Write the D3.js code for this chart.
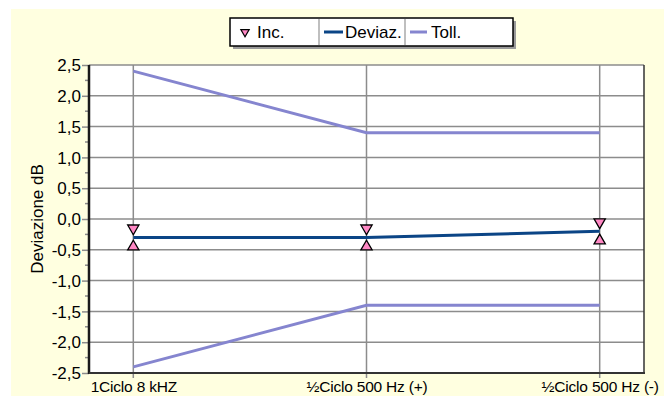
<!DOCTYPE html>
<html>
<head>
<meta charset="utf-8">
<script src="https://cdn.jsdelivr.net/npm/d3@7"></script>
<style>
  body { margin: 0; background: #fff; }
  svg { display: block; font-family: "Liberation Sans", Arial, sans-serif; }
</style>
</head>
<body>
<div id="chart"></div>
<script>
var categories = ["1Ciclo 8 kHZ", "½Ciclo 500 Hz (+)", "½Ciclo 500 Hz (-)"];
var deviaz = [-0.3, -0.3, -0.2];
var incHigh = [-0.15, -0.15, -0.05];
var incLow = [-0.45, -0.45, -0.35];
var tollUp = [2.4, 1.4, 1.4];
var tollDown = [-2.4, -1.4, -1.4];
var yTicks = [2.5, 2.0, 1.5, 1.0, 0.5, 0.0, -0.5, -1.0, -1.5, -2.0, -2.5];

function drawChart() {
  var width = 664, height = 401;
  var pLeft = 89, pRight = 644, pTop = 65, pBottom = 373;
  var font = '"Liberation Sans", Arial, sans-serif';

  var svg = d3.select('#chart').append('svg')
    .attr('width', width).attr('height', height);

  // background
  svg.append('rect').attr('x', 11).attr('y', 9)
    .attr('width', width - 11).attr('height', 387)
    .attr('fill', '#ffffe0');

  var x = d3.scalePoint().domain(categories).range([pLeft, pRight]).padding(0.19);
  var y = d3.scaleLinear().domain([-2.5, 2.5]).range([pBottom, pTop]);

  // plot area
  svg.append('rect').attr('x', pLeft).attr('y', pTop)
    .attr('width', pRight - pLeft).attr('height', pBottom - pTop)
    .attr('fill', '#fff');

  // horizontal grid
  svg.append('g').selectAll('line').data(yTicks).enter().append('line')
    .attr('x1', pLeft).attr('x2', pRight)
    .attr('y1', function(d) { return y(d); }).attr('y2', function(d) { return y(d); })
    .attr('stroke', '#8c8c8c').attr('stroke-width', 1.5);

  // vertical grid
  svg.append('g').selectAll('line').data(categories).enter().append('line')
    .attr('x1', function(d) { return x(d); }).attr('x2', function(d) { return x(d); })
    .attr('y1', pTop).attr('y2', pBottom + 5)
    .attr('stroke', '#8c8c8c').attr('stroke-width', 1.5);

  // frame right
  svg.append('line').attr('x1', pRight).attr('x2', pRight).attr('y1', pTop).attr('y2', pBottom)
    .attr('stroke', '#333').attr('stroke-width', 1.5);

  // y axis
  var yAxis = d3.axisLeft(y).tickValues(yTicks).tickSize(7).tickPadding(1)
    .tickFormat(function(d) { return d3.format('.1f')(d).replace('.', ',').replace('−', '-'); });
  var ya = svg.append('g').attr('transform', 'translate(' + pLeft + ',0)').call(yAxis);
  ya.select('.domain').remove();
  ya.selectAll('line').attr('stroke', '#8c8c8c').attr('stroke-width', 1.5);
  ya.selectAll('text').attr('font-size', 17).attr('fill', '#000')
    .attr('font-family', font).attr('dy', '0.34em');

  // minor ticks
  var minor = d3.range(-2.25, 2.5, 0.5);
  svg.append('g').selectAll('line').data(minor).enter().append('line')
    .attr('x1', pLeft - 4).attr('x2', pLeft)
    .attr('y1', function(d) { return y(d); }).attr('y2', function(d) { return y(d); })
    .attr('stroke', '#8c8c8c').attr('stroke-width', 1.5);

  svg.append('line').attr('x1', pLeft).attr('x2', pLeft).attr('y1', pTop).attr('y2', pBottom + 1)
    .attr('stroke', '#1a1a1a').attr('stroke-width', 2.5);
  svg.append('line').attr('x1', pLeft).attr('x2', pRight + 1).attr('y1', pBottom).attr('y2', pBottom)
    .attr('stroke', '#333').attr('stroke-width', 2);

  // x axis labels
  var xAxis = d3.axisBottom(x).tickSize(0).tickPadding(8);
  var xa = svg.append('g').attr('transform', 'translate(0,' + pBottom + ')').call(xAxis);
  xa.select('.domain').remove();
  xa.selectAll('text').attr('font-size', 15.5).attr('fill', '#000')
    .attr('font-family', font).attr('letter-spacing', '-0.2');

  // y title
  svg.append('text').attr('transform', 'translate(43,' + ((pTop + pBottom) / 2) + ') rotate(-90)')
    .attr('text-anchor', 'middle').attr('font-size', 17).attr('font-family', font).text('Deviazione dB');

  var line = d3.line()
    .x(function(d, i) { return x(categories[i]); })
    .y(function(d) { return y(d); });

  var tollColor = '#8585cf', devColor = '#0b4586', incColor = '#ff88c4';

  [tollUp, tollDown].forEach(function(s) {
    svg.append('path').datum(s).attr('d', line).attr('fill', 'none')
      .attr('stroke', tollColor).attr('stroke-width', 3);
  });
  svg.append('path').datum(deviaz).attr('d', line).attr('fill', 'none')
    .attr('stroke', devColor).attr('stroke-width', 3);

  var tri = d3.symbol().type(d3.symbolTriangle).size(55);
  svg.append('g').selectAll('path').data(incHigh).enter().append('path')
    .attr('d', tri)
    .attr('transform', function(d, i) { return 'translate(' + x(categories[i]) + ',' + y(d) + ') rotate(180)'; })
    .attr('fill', incColor).attr('stroke', '#000').attr('stroke-width', 1.3);
  svg.append('g').selectAll('path').data(incLow).enter().append('path')
    .attr('d', tri)
    .attr('transform', function(d, i) { return 'translate(' + x(categories[i]) + ',' + y(d) + ')'; })
    .attr('fill', incColor).attr('stroke', '#000').attr('stroke-width', 1.3);

  // legend
  var lg = svg.append('g');
  lg.append('rect').attr('x', 233).attr('y', 21).attr('width', 283).attr('height', 28).attr('fill', '#9a9a9a');
  lg.append('rect').attr('x', 230).attr('y', 18).attr('width', 283).attr('height', 28)
    .attr('fill', '#fff').attr('stroke', '#000').attr('stroke-width', 1.5);
  [319, 405].forEach(function(dx) {
    lg.append('line').attr('x1', dx).attr('x2', dx).attr('y1', 19).attr('y2', 45)
      .attr('stroke', '#aaa').attr('stroke-width', 1.5);
  });
  lg.append('path').attr('d', d3.symbol().type(d3.symbolTriangle).size(30))
    .attr('transform', 'translate(245,32) rotate(180)')
    .attr('fill', incColor).attr('stroke', '#000').attr('stroke-width', 1.2);
  lg.append('line').attr('x1', 324).attr('x2', 343).attr('y1', 32).attr('y2', 32)
    .attr('stroke', devColor).attr('stroke-width', 3);
  lg.append('line').attr('x1', 410).attr('x2', 427).attr('y1', 32).attr('y2', 32)
    .attr('stroke', tollColor).attr('stroke-width', 3);
  [['Inc.', 257], ['Deviaz.', 345], ['Toll.', 431]].forEach(function(t) {
    lg.append('text').attr('x', t[1]).attr('y', 38).attr('font-size', 17)
      .attr('font-family', font).text(t[0]);
  });
}

drawChart();
</script>
</body>
</html>
